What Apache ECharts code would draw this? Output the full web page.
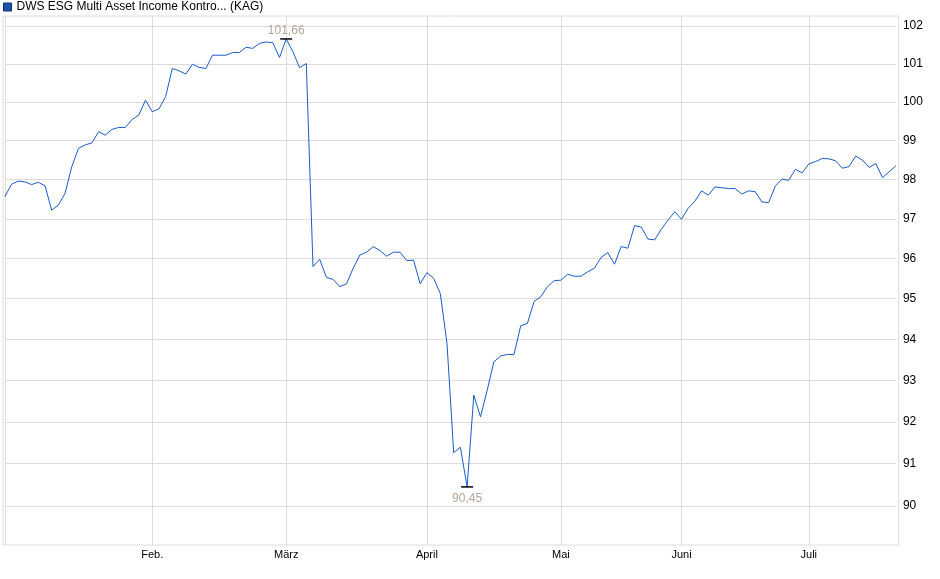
<!DOCTYPE html>
<html><head><meta charset="utf-8">
<script src="https://cdn.jsdelivr.net/npm/echarts@6/dist/echarts.min.js"></script>
<style>html,body{margin:0;padding:0;background:#fff}#c{width:940px;height:579px}</style>
</head><body><div id="c"></div>
<script>
const seriesName = 'DWS ESG Multi Asset Income Kontro... (KAG)';
const monthLabels = ['Jan', 'Feb.', 'März', 'April', 'Mai', 'Juni', 'Juli'];
const janValues = [97.56, 97.88, 97.96, 97.94, 97.87, 97.93, 97.84, 97.22, 97.35, 97.65, 98.33, 98.80, 98.89, 98.94, 99.23, 99.14, 99.29, 99.34, 99.34, 99.55, 99.66, 100.05];
const febValues = [99.75, 99.82, 100.14, 100.88, 100.82, 100.73, 100.99, 100.91, 100.88, 101.23, 101.23, 101.23, 101.30, 101.30, 101.44, 101.41, 101.54, 101.58, 101.56, 101.17];
const marValues = [101.66, 101.32, 100.90, 101.01, 95.80, 95.98, 95.53, 95.48, 95.30, 95.37, 95.76, 96.09, 96.16, 96.30, 96.20, 96.06, 96.16, 96.16, 95.95, 95.96, 95.37];
const aprValues = [95.65, 95.51, 95.13, 93.90, 91.26, 91.39, 90.45, 92.64, 92.12, 92.76, 93.45, 93.59, 93.63, 93.63, 94.33, 94.39, 94.93, 95.05, 95.30, 95.45];
const mayValues = [95.46, 95.61, 95.56, 95.56, 95.67, 95.76, 96.03, 96.15, 95.86, 96.30, 96.26, 96.83, 96.79, 96.49, 96.47, 96.74, 96.97, 97.18];
const junValues = [96.99, 97.27, 97.45, 97.71, 97.60, 97.81, 97.79, 97.77, 97.77, 97.63, 97.71, 97.69, 97.43, 97.41, 97.83, 98.01, 97.98, 98.26, 98.17];
const julValues = [98.40, 98.46, 98.54, 98.53, 98.48, 98.29, 98.33, 98.60, 98.50, 98.31, 98.41, 98.05, 98.20, 98.35];
const yTickValues = [90, 91, 92, 93, 94, 95, 96, 97, 98, 99, 100, 101, 102];

const monthValues = [janValues, febValues, marValues, aprValues, mayValues, junValues, julValues];
const categories = [];
const values = [];
const monthStart = {};
monthValues.forEach(function (arr, m) {
  monthStart[categories.length] = m;
  arr.forEach(function (v, d) {
    categories.push(monthLabels[m] + ' ' + (d + 1));
    values.push(v);
  });
});

const FONT = '"Liberation Sans", Arial, sans-serif';
const GRID_C = '#dcdcdc';
const fmt = function (v) { return Number(v).toFixed(2).replace('.', ','); };

const chart = echarts.init(document.getElementById('c'), null, { renderer: 'canvas' });
chart.setOption({
  animation: false,
  backgroundColor: '#fff',
  textStyle: { fontFamily: FONT },
  legend: {
    left: 3, top: 1, padding: 0,
    itemWidth: 8, itemHeight: 8,
    icon: 'rect',
    itemStyle: { color: '#1a52b0', borderColor: '#0e2f70', borderWidth: 1 },
    textStyle: { fontSize: 12, color: '#000', fontFamily: FONT },
    data: [seriesName]
  },
  grid: [
    { left: 4.8, right: 44.1, top: 16, bottom: 34, show: false },
    { left: 3, right: 41.3, top: 16, bottom: 34, show: true, borderColor: GRID_C, borderWidth: 1, backgroundColor: 'transparent' }
  ],
  xAxis: [
    {
      type: 'category', gridIndex: 0, data: categories, boundaryGap: false,
      axisLine: { show: false }, axisTick: { show: false },
      axisLabel: {
        interval: function (i) { return i !== 0 && monthStart.hasOwnProperty(i); },
        formatter: function (v) { return v.split(' ')[0]; },
        fontSize: 11, color: '#000', margin: 4, fontFamily: FONT
      },
      splitLine: {
        show: true,
        interval: function (i) { return monthStart.hasOwnProperty(i); },
        lineStyle: { color: GRID_C, width: 1 }
      }
    },
    { type: 'value', gridIndex: 1, show: false }
  ],
  yAxis: [
    {
      type: 'log', gridIndex: 0, min: 89.09, max: 102.27, position: 'right',
      axisLine: { show: false }, axisTick: { show: false },
      axisLabel: { show: false }, splitLine: { show: false }
    },
    { type: 'value', gridIndex: 1, show: false }
  ],
  series: [
    {
      name: 'grid', type: 'line', xAxisIndex: 0, yAxisIndex: 0, data: [],
      silent: true, z: 1,
      markLine: {
        silent: true, z: 1, animation: false,
        symbol: ['none', 'none'],
        lineStyle: { color: GRID_C, width: 1, type: 'solid' },
        label: {
          show: true, position: 'end', distance: 7,
          formatter: function (p) { return String(Math.round(p.value)); },
          color: '#000', fontSize: 12, fontFamily: FONT
        },
        emphasis: { disabled: true },
        data: yTickValues.map(function (v) { return { yAxis: v }; })
      }
    },
    {
      name: seriesName, type: 'line', xAxisIndex: 0, yAxisIndex: 0,
      data: values, showSymbol: false, symbol: 'none', z: 3,
      lineStyle: { color: '#1a5bc4', width: 1 },
      itemStyle: { color: '#1a52b0' },
      markPoint: {
        symbol: 'rect', symbolSize: [12, 1.5],
        itemStyle: { color: '#000' },
        label: { show: true, color: '#b5a796', fontSize: 12, fontFamily: FONT, formatter: function (p) { return fmt(p.value); } },
        data: [
          { type: 'max', label: { position: 'top', distance: 2 } },
          { type: 'min', label: { position: 'bottom', distance: 5 } }
        ]
      }
    }
  ]
});
</script>
</body></html>
